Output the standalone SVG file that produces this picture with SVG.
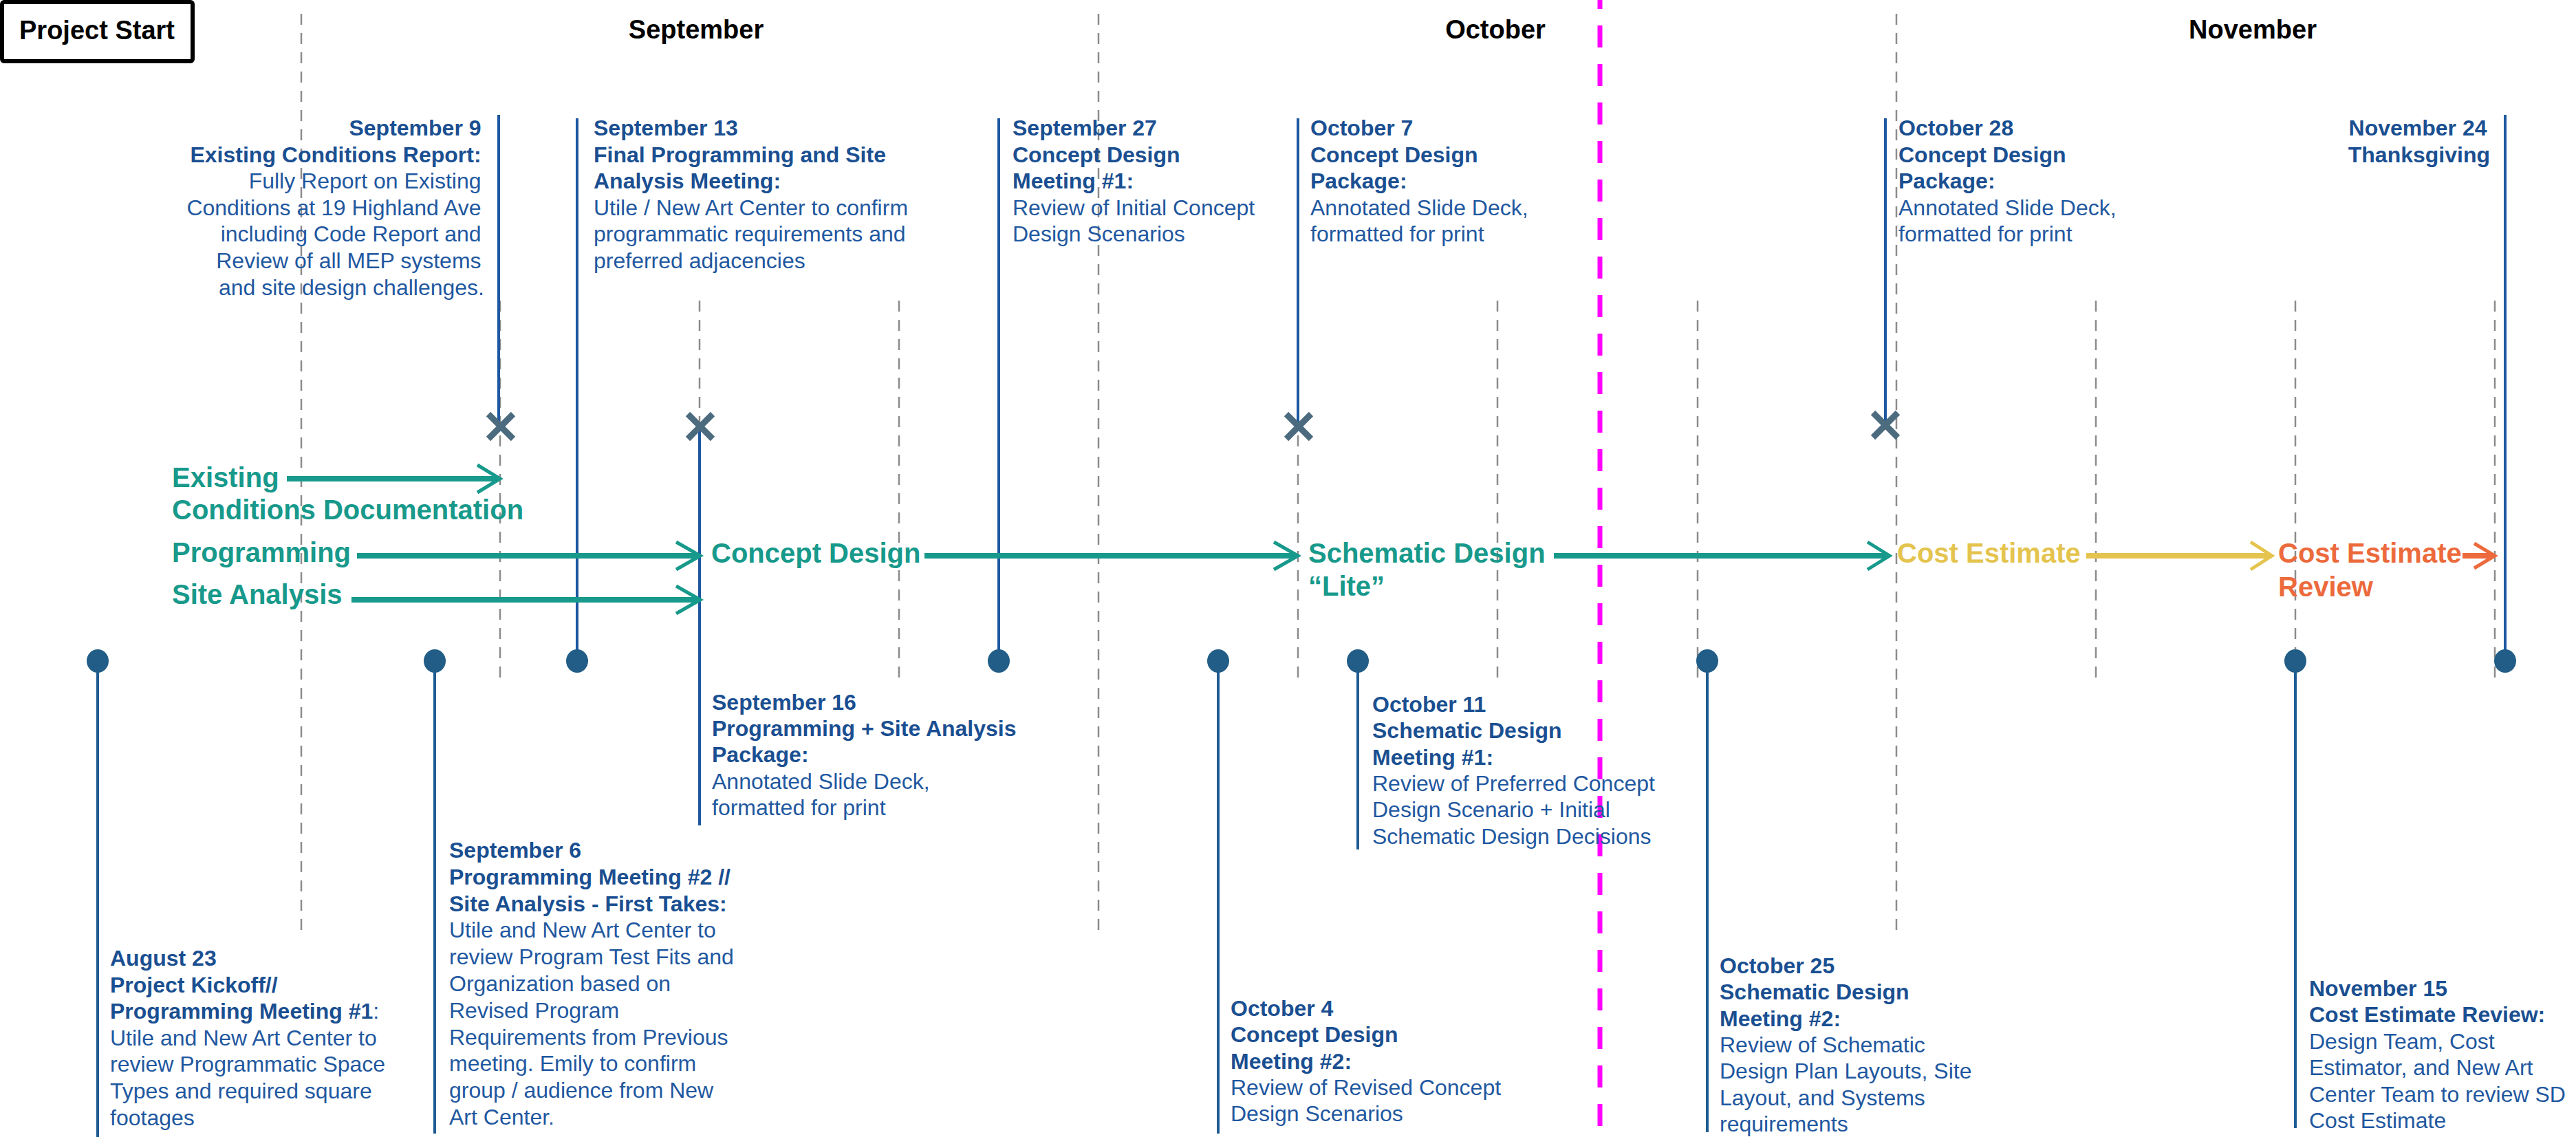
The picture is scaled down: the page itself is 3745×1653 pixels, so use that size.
<svg xmlns="http://www.w3.org/2000/svg" width="3745" height="1653" viewBox="0 0 3745 1653">
<style>
text{font-family:"Liberation Sans",Arial,sans-serif}
.m{font-size:38px;font-weight:bold;fill:#000}
.b{font-size:32px;font-weight:bold;fill:#1a4f91}
.r{font-size:32px;font-weight:normal;fill:#1f58a0}
.ph{font-size:40px;font-weight:bold}
.teal{fill:#17998b}
.yel{fill:#e4c44e}
.org{fill:#ec6a3c}
.grid{stroke:#8c8c8c;stroke-width:2.5;stroke-dasharray:16 12;fill:none}
.top{stroke:#1d58a0;stroke-width:4;fill:none}
.bot{stroke:#1f5b93;stroke-width:4;fill:none}
.dot{fill:#215d87}
.xm{stroke:#4d6b7f;stroke-width:9;stroke-linecap:butt;fill:none}
.al{stroke-width:8;fill:none}
.ah{stroke-width:5;fill:none}
.ta{stroke:#17998b}
.ya{stroke:#e4c44e}
.oa{stroke:#ec6a3c}
</style>
<rect width="3745" height="1653" fill="#ffffff"/>

<g id="grid">
<line class="grid" x1="438" y1="20" x2="438" y2="1352"/>
<line class="grid" x1="1597" y1="20" x2="1597" y2="1352"/>
<line class="grid" x1="2757" y1="20" x2="2757" y2="1352"/>
<line class="grid" x1="727" y1="437" x2="727" y2="992"/>
<line class="grid" x1="1017" y1="437" x2="1017" y2="992"/>
<line class="grid" x1="1307" y1="437" x2="1307" y2="992"/>
<line class="grid" x1="1887" y1="437" x2="1887" y2="992"/>
<line class="grid" x1="2177" y1="437" x2="2177" y2="992"/>
<line class="grid" x1="2468" y1="437" x2="2468" y2="992"/>
<line class="grid" x1="3047" y1="437" x2="3047" y2="992"/>
<line class="grid" x1="3337" y1="437" x2="3337" y2="992"/>
<line class="grid" x1="3627" y1="437" x2="3627" y2="992"/>
</g>

<g id="today-line">
<line x1="2326" y1="0" x2="2326" y2="1653" stroke="#ff00ff" stroke-width="7" stroke-dasharray="32 24" stroke-dashoffset="19"/>
</g>

<g id="project-start">
<rect x="3" y="3" width="277" height="86" rx="3" fill="#fff" stroke="#000" stroke-width="6"/>
<text class="m" x="141" y="57" text-anchor="middle">Project Start</text>
</g>

<g id="months">
<text class="m" x="1012" y="56" text-anchor="middle">September</text>
<text class="m" x="2174" y="56" text-anchor="middle">October</text>
<text class="m" x="3275" y="56" text-anchor="middle">November</text>
</g>

<g id="connectors">
<line class="top" x1="725" y1="167" x2="725" y2="618"/>
<line class="top" x1="839" y1="172" x2="839" y2="961"/>
<line class="top" x1="1452" y1="172" x2="1452" y2="961"/>
<line class="top" x1="1887" y1="172" x2="1887" y2="620"/>
<line class="top" x1="2741" y1="172" x2="2741" y2="618"/>
<line class="top" x1="3642" y1="167" x2="3642" y2="961"/>
<line class="top" x1="1017" y1="620" x2="1017" y2="1200"/>
<line class="bot" x1="142" y1="961" x2="142" y2="1653"/>
<line class="bot" x1="632" y1="961" x2="632" y2="1648"/>
<line class="bot" x1="1771" y1="961" x2="1771" y2="1648"/>
<line class="bot" x1="1974" y1="961" x2="1974" y2="1235"/>
<line class="bot" x1="2482" y1="961" x2="2482" y2="1646"/>
<line class="bot" x1="3337" y1="961" x2="3337" y2="1640"/>
</g>

<g id="markers-x">
<path class="xm" d="M710 602L746 638M746 602L710 638"/>
<path class="xm" d="M1000 602L1036 638M1036 602L1000 638"/>
<path class="xm" d="M1870 602L1906 638M1906 602L1870 638"/>
<path class="xm" d="M2723 600L2759 636M2759 600L2723 636"/>
</g>

<g id="markers-dot">
<ellipse class="dot" cx="142" cy="961" rx="16" ry="17"/>
<ellipse class="dot" cx="632" cy="961" rx="16" ry="17"/>
<ellipse class="dot" cx="839" cy="961" rx="16" ry="17"/>
<ellipse class="dot" cx="1452" cy="961" rx="16" ry="17"/>
<ellipse class="dot" cx="1771" cy="961" rx="16" ry="17"/>
<ellipse class="dot" cx="1974" cy="961" rx="16" ry="17"/>
<ellipse class="dot" cx="2482" cy="961" rx="16" ry="17"/>
<ellipse class="dot" cx="3337" cy="961" rx="16" ry="17"/>
<ellipse class="dot" cx="3642" cy="961" rx="16" ry="17"/>
</g>

<g id="phase-arrows">
<line class="al ta" x1="417" y1="696" x2="722" y2="696"/>
<path class="ah ta" d="M694 676L727 696L694 716"/>
<line class="al ta" x1="519" y1="808" x2="1013" y2="808"/>
<path class="ah ta" d="M983 788L1018 808L983 828"/>
<line class="al ta" x1="511" y1="872" x2="1013" y2="872"/>
<path class="ah ta" d="M983 852L1018 872L983 892"/>
<line class="al ta" x1="1344" y1="808" x2="1882" y2="808"/>
<path class="ah ta" d="M1852 788L1887 808L1852 828"/>
<line class="al ta" x1="2259" y1="808" x2="2742" y2="808"/>
<path class="ah ta" d="M2715 788L2747 808L2715 828"/>
<line class="al ya" x1="3033" y1="808" x2="3298" y2="808"/>
<path class="ah ya" d="M3272 788L3303 808L3272 828"/>
<line class="al oa" x1="3580" y1="808" x2="3622" y2="808"/>
<path class="ah oa" d="M3597 790L3627 808L3597 826"/>
</g>

<g id="phase-existing"><text class="ph teal" x="250" y="708">Existing</text><text class="ph teal" x="250" y="755">Conditions Documentation</text></g>
<g id="phase-programming"><text class="ph teal" x="250" y="817">Programming</text></g>
<g id="phase-site"><text class="ph teal" x="250" y="878">Site Analysis</text></g>
<g id="phase-concept"><text class="ph teal" x="1034" y="818">Concept Design</text></g>
<g id="phase-schematic"><text class="ph teal" x="1902" y="818">Schematic Design</text><text class="ph teal" x="1902" y="866">“Lite”</text></g>
<g id="phase-cost"><text class="ph yel" x="2758" y="818">Cost Estimate</text></g>
<g id="phase-cost-review"><text class="ph org" x="3312" y="818">Cost Estimate</text><text class="ph org" x="3312" y="867">Review</text></g>

<g id="ev-sep9">
<text text-anchor="end">
<tspan class="b" x="704" y="197">September 9</tspan>
<tspan class="b" x="704" y="235.6">Existing Conditions Report:</tspan>
<tspan class="r" x="704" y="274.2">Fully Report on Existing</tspan>
<tspan class="r" x="704" y="312.8">Conditions at 19 Highland Ave</tspan>
<tspan class="r" x="704" y="351.4">including Code Report and</tspan>
<tspan class="r" x="704" y="390">Review of all MEP systems</tspan>
<tspan class="r" x="704" y="428.6">and site design challenges.</tspan>
</text>
</g>

<g id="ev-sep13">
<text>
<tspan class="b" x="863" y="197">September 13</tspan>
<tspan class="b" x="863" y="235.6">Final Programming and Site</tspan>
<tspan class="b" x="863" y="274.2">Analysis Meeting:</tspan>
<tspan class="r" x="863" y="312.8">Utile / New Art Center to confirm</tspan>
<tspan class="r" x="863" y="351.4">programmatic requirements and</tspan>
<tspan class="r" x="863" y="390">preferred adjacencies</tspan>
</text>
</g>

<g id="ev-sep27">
<text>
<tspan class="b" x="1472" y="197">September 27</tspan>
<tspan class="b" x="1472" y="235.6">Concept Design</tspan>
<tspan class="b" x="1472" y="274.2">Meeting #1:</tspan>
<tspan class="r" x="1472" y="312.8">Review of Initial Concept</tspan>
<tspan class="r" x="1472" y="351.4">Design Scenarios</tspan>
</text>
</g>

<g id="ev-oct7">
<text>
<tspan class="b" x="1905" y="197">October 7</tspan>
<tspan class="b" x="1905" y="235.6">Concept Design</tspan>
<tspan class="b" x="1905" y="274.2">Package:</tspan>
<tspan class="r" x="1905" y="312.8">Annotated Slide Deck,</tspan>
<tspan class="r" x="1905" y="351.4">formatted for print</tspan>
</text>
</g>

<g id="ev-oct28">
<text>
<tspan class="b" x="2760" y="197">October 28</tspan>
<tspan class="b" x="2760" y="235.6">Concept Design</tspan>
<tspan class="b" x="2760" y="274.2">Package:</tspan>
<tspan class="r" x="2760" y="312.8">Annotated Slide Deck,</tspan>
<tspan class="r" x="2760" y="351.4">formatted for print</tspan>
</text>
</g>

<g id="ev-nov24">
<text text-anchor="end">
<tspan class="b" x="3620" y="197">November 24</tspan>
<tspan class="b" x="3620" y="235.6">Thanksgiving</tspan>
</text>
</g>

<g id="ev-aug23">
<text>
<tspan class="b" x="160" y="1404">August 23</tspan>
<tspan class="b" x="160" y="1442.6">Project Kickoff//</tspan>
<tspan class="b" x="160" y="1481.2">Programming Meeting #1</tspan><tspan class="r">:</tspan>
<tspan class="r" x="160" y="1519.8">Utile and New Art Center to</tspan>
<tspan class="r" x="160" y="1558.4">review Programmatic Space</tspan>
<tspan class="r" x="160" y="1597">Types and required square</tspan>
<tspan class="r" x="160" y="1635.6">footages</tspan>
</text>
</g>

<g id="ev-sep6">
<text>
<tspan class="b" x="653" y="1247">September 6</tspan>
<tspan class="b" x="653" y="1285.8">Programming Meeting #2 //</tspan>
<tspan class="b" x="653" y="1324.6">Site Analysis - First Takes:</tspan>
<tspan class="r" x="653" y="1363.4">Utile and New Art Center to</tspan>
<tspan class="r" x="653" y="1402.2">review Program Test Fits and</tspan>
<tspan class="r" x="653" y="1441">Organization based on</tspan>
<tspan class="r" x="653" y="1479.8">Revised Program</tspan>
<tspan class="r" x="653" y="1518.6">Requirements from Previous</tspan>
<tspan class="r" x="653" y="1557.4">meeting. Emily to confirm</tspan>
<tspan class="r" x="653" y="1596.2">group / audience from New</tspan>
<tspan class="r" x="653" y="1635">Art Center.</tspan>
</text>
</g>

<g id="ev-sep16">
<text>
<tspan class="b" x="1035" y="1032">September 16</tspan>
<tspan class="b" x="1035" y="1070.2">Programming + Site Analysis</tspan>
<tspan class="b" x="1035" y="1108.4">Package:</tspan>
<tspan class="r" x="1035" y="1146.6">Annotated Slide Deck,</tspan>
<tspan class="r" x="1035" y="1184.8">formatted for print</tspan>
</text>
</g>

<g id="ev-oct4">
<text>
<tspan class="b" x="1789" y="1477">October 4</tspan>
<tspan class="b" x="1789" y="1515.3">Concept Design</tspan>
<tspan class="b" x="1789" y="1553.6">Meeting #2:</tspan>
<tspan class="r" x="1789" y="1591.9">Review of Revised Concept</tspan>
<tspan class="r" x="1789" y="1630.2">Design Scenarios</tspan>
</text>
</g>

<g id="ev-oct11">
<text>
<tspan class="b" x="1995" y="1035">October 11</tspan>
<tspan class="b" x="1995" y="1073.3">Schematic Design</tspan>
<tspan class="b" x="1995" y="1111.6">Meeting #1:</tspan>
<tspan class="r" x="1995" y="1149.9">Review of Preferred Concept</tspan>
<tspan class="r" x="1995" y="1188.2">Design Scenario + Initial</tspan>
<tspan class="r" x="1995" y="1226.5">Schematic Design Decisions</tspan>
</text>
</g>

<g id="ev-oct25">
<text>
<tspan class="b" x="2500" y="1415">October 25</tspan>
<tspan class="b" x="2500" y="1453.3">Schematic Design</tspan>
<tspan class="b" x="2500" y="1491.6">Meeting #2:</tspan>
<tspan class="r" x="2500" y="1529.9">Review of Schematic</tspan>
<tspan class="r" x="2500" y="1568.2">Design Plan Layouts, Site</tspan>
<tspan class="r" x="2500" y="1606.5">Layout, and Systems</tspan>
<tspan class="r" x="2500" y="1644.8">requirements</tspan>
</text>
</g>

<g id="ev-nov15">
<text>
<tspan class="b" x="3357" y="1448">November 15</tspan>
<tspan class="b" x="3357" y="1486.4">Cost Estimate Review:</tspan>
<tspan class="r" x="3357" y="1524.8">Design Team, Cost</tspan>
<tspan class="r" x="3357" y="1563.2">Estimator, and New Art</tspan>
<tspan class="r" x="3357" y="1601.6">Center Team to review SD</tspan>
<tspan class="r" x="3357" y="1640">Cost Estimate</tspan>
</text>
</g>
</svg>
